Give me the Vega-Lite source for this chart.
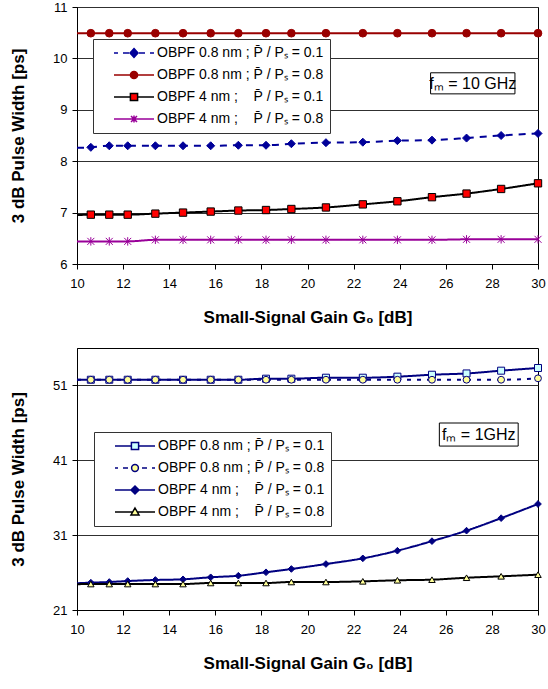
{
  "$schema": "https://vega.github.io/schema/vega-lite/v6.json",
  "padding": {"left": 9, "top": 0, "right": 0, "bottom": 5},
  "spacing": 21,
  "config": {
    "font": "Liberation Sans",
    "view": {"stroke": "#000000", "strokeWidth": 1},
    "axis": {"labelFont": "Liberation Sans", "labelFontSize": 13, "labelColor": "#000000", "titleFont": "Liberation Sans", "titleFontSize": 17, "titleFontWeight": "bold", "titleColor": "#000000", "domainColor": "#000000", "tickColor": "#000000", "tickSize": 5, "gridColor": "#303030", "labelFlush": false, "labelOverlap": false},
    "legend": {"title": null, "orient": "none", "direction": "vertical", "padding": 6, "strokeColor": "#333333", "fillColor": "#ffffff", "labelFont": "Liberation Sans", "labelFontSize": 14, "labelColor": "#000000", "labelLimit": 400, "symbolSize": 1600, "symbolStrokeWidth": 1.5, "symbolOpacity": 1, "clipHeight": 16, "rowPadding": 6, "symbolOffset": 14, "labelOffset": 2, "labelExpr": "datum.label + '\u00a0\u00a0\u00a0\u00a0\u00a0\u00a0'"}
  },
  "datasets": {
    "top": [
      {"series": "OBPF 0.8 nm ; P\u0304 / P\u209b = 0.1", "gain": 10, "width": 8.26},
      {"series": "OBPF 0.8 nm ; P\u0304 / P\u209b = 0.1", "gain": 10.6, "width": 8.27},
      {"series": "OBPF 0.8 nm ; P\u0304 / P\u209b = 0.1", "gain": 11.4, "width": 8.30},
      {"series": "OBPF 0.8 nm ; P\u0304 / P\u209b = 0.1", "gain": 12.2, "width": 8.30},
      {"series": "OBPF 0.8 nm ; P\u0304 / P\u209b = 0.1", "gain": 13.4, "width": 8.30},
      {"series": "OBPF 0.8 nm ; P\u0304 / P\u209b = 0.1", "gain": 14.6, "width": 8.30},
      {"series": "OBPF 0.8 nm ; P\u0304 / P\u209b = 0.1", "gain": 15.8, "width": 8.30},
      {"series": "OBPF 0.8 nm ; P\u0304 / P\u209b = 0.1", "gain": 17.0, "width": 8.31},
      {"series": "OBPF 0.8 nm ; P\u0304 / P\u209b = 0.1", "gain": 18.2, "width": 8.31},
      {"series": "OBPF 0.8 nm ; P\u0304 / P\u209b = 0.1", "gain": 19.3, "width": 8.34},
      {"series": "OBPF 0.8 nm ; P\u0304 / P\u209b = 0.1", "gain": 20.8, "width": 8.36},
      {"series": "OBPF 0.8 nm ; P\u0304 / P\u209b = 0.1", "gain": 22.4, "width": 8.37},
      {"series": "OBPF 0.8 nm ; P\u0304 / P\u209b = 0.1", "gain": 23.9, "width": 8.40},
      {"series": "OBPF 0.8 nm ; P\u0304 / P\u209b = 0.1", "gain": 25.4, "width": 8.41},
      {"series": "OBPF 0.8 nm ; P\u0304 / P\u209b = 0.1", "gain": 26.9, "width": 8.45},
      {"series": "OBPF 0.8 nm ; P\u0304 / P\u209b = 0.1", "gain": 28.4, "width": 8.50},
      {"series": "OBPF 0.8 nm ; P\u0304 / P\u209b = 0.1", "gain": 30, "width": 8.54},
      {"series": "OBPF 0.8 nm ; P\u0304 / P\u209b = 0.8", "gain": 10, "width": 10.49},
      {"series": "OBPF 0.8 nm ; P\u0304 / P\u209b = 0.8", "gain": 10.6, "width": 10.49},
      {"series": "OBPF 0.8 nm ; P\u0304 / P\u209b = 0.8", "gain": 11.4, "width": 10.49},
      {"series": "OBPF 0.8 nm ; P\u0304 / P\u209b = 0.8", "gain": 12.2, "width": 10.49},
      {"series": "OBPF 0.8 nm ; P\u0304 / P\u209b = 0.8", "gain": 13.4, "width": 10.49},
      {"series": "OBPF 0.8 nm ; P\u0304 / P\u209b = 0.8", "gain": 14.6, "width": 10.49},
      {"series": "OBPF 0.8 nm ; P\u0304 / P\u209b = 0.8", "gain": 15.8, "width": 10.49},
      {"series": "OBPF 0.8 nm ; P\u0304 / P\u209b = 0.8", "gain": 17.0, "width": 10.49},
      {"series": "OBPF 0.8 nm ; P\u0304 / P\u209b = 0.8", "gain": 18.2, "width": 10.49},
      {"series": "OBPF 0.8 nm ; P\u0304 / P\u209b = 0.8", "gain": 19.3, "width": 10.49},
      {"series": "OBPF 0.8 nm ; P\u0304 / P\u209b = 0.8", "gain": 20.8, "width": 10.49},
      {"series": "OBPF 0.8 nm ; P\u0304 / P\u209b = 0.8", "gain": 22.4, "width": 10.49},
      {"series": "OBPF 0.8 nm ; P\u0304 / P\u209b = 0.8", "gain": 23.9, "width": 10.49},
      {"series": "OBPF 0.8 nm ; P\u0304 / P\u209b = 0.8", "gain": 25.4, "width": 10.49},
      {"series": "OBPF 0.8 nm ; P\u0304 / P\u209b = 0.8", "gain": 26.9, "width": 10.49},
      {"series": "OBPF 0.8 nm ; P\u0304 / P\u209b = 0.8", "gain": 28.4, "width": 10.49},
      {"series": "OBPF 0.8 nm ; P\u0304 / P\u209b = 0.8", "gain": 30, "width": 10.49},
      {"series": "OBPF 4 nm ;\u00a0\u00a0\u00a0\u00a0P\u0304 / P\u209b = 0.1", "gain": 10, "width": 6.95},
      {"series": "OBPF 4 nm ;\u00a0\u00a0\u00a0\u00a0P\u0304 / P\u209b = 0.1", "gain": 10.6, "width": 6.96},
      {"series": "OBPF 4 nm ;\u00a0\u00a0\u00a0\u00a0P\u0304 / P\u209b = 0.1", "gain": 11.4, "width": 6.96},
      {"series": "OBPF 4 nm ;\u00a0\u00a0\u00a0\u00a0P\u0304 / P\u209b = 0.1", "gain": 12.2, "width": 6.96},
      {"series": "OBPF 4 nm ;\u00a0\u00a0\u00a0\u00a0P\u0304 / P\u209b = 0.1", "gain": 13.4, "width": 6.98},
      {"series": "OBPF 4 nm ;\u00a0\u00a0\u00a0\u00a0P\u0304 / P\u209b = 0.1", "gain": 14.6, "width": 7.00},
      {"series": "OBPF 4 nm ;\u00a0\u00a0\u00a0\u00a0P\u0304 / P\u209b = 0.1", "gain": 15.8, "width": 7.02},
      {"series": "OBPF 4 nm ;\u00a0\u00a0\u00a0\u00a0P\u0304 / P\u209b = 0.1", "gain": 17.0, "width": 7.04},
      {"series": "OBPF 4 nm ;\u00a0\u00a0\u00a0\u00a0P\u0304 / P\u209b = 0.1", "gain": 18.2, "width": 7.05},
      {"series": "OBPF 4 nm ;\u00a0\u00a0\u00a0\u00a0P\u0304 / P\u209b = 0.1", "gain": 19.3, "width": 7.07},
      {"series": "OBPF 4 nm ;\u00a0\u00a0\u00a0\u00a0P\u0304 / P\u209b = 0.1", "gain": 20.8, "width": 7.10},
      {"series": "OBPF 4 nm ;\u00a0\u00a0\u00a0\u00a0P\u0304 / P\u209b = 0.1", "gain": 22.4, "width": 7.16},
      {"series": "OBPF 4 nm ;\u00a0\u00a0\u00a0\u00a0P\u0304 / P\u209b = 0.1", "gain": 23.9, "width": 7.22},
      {"series": "OBPF 4 nm ;\u00a0\u00a0\u00a0\u00a0P\u0304 / P\u209b = 0.1", "gain": 25.4, "width": 7.30},
      {"series": "OBPF 4 nm ;\u00a0\u00a0\u00a0\u00a0P\u0304 / P\u209b = 0.1", "gain": 26.9, "width": 7.37},
      {"series": "OBPF 4 nm ;\u00a0\u00a0\u00a0\u00a0P\u0304 / P\u209b = 0.1", "gain": 28.4, "width": 7.46},
      {"series": "OBPF 4 nm ;\u00a0\u00a0\u00a0\u00a0P\u0304 / P\u209b = 0.1", "gain": 30, "width": 7.57},
      {"series": "OBPF 4 nm ;\u00a0\u00a0\u00a0\u00a0P\u0304 / P\u209b = 0.8", "gain": 10, "width": 6.44},
      {"series": "OBPF 4 nm ;\u00a0\u00a0\u00a0\u00a0P\u0304 / P\u209b = 0.8", "gain": 10.6, "width": 6.44},
      {"series": "OBPF 4 nm ;\u00a0\u00a0\u00a0\u00a0P\u0304 / P\u209b = 0.8", "gain": 11.4, "width": 6.44},
      {"series": "OBPF 4 nm ;\u00a0\u00a0\u00a0\u00a0P\u0304 / P\u209b = 0.8", "gain": 12.2, "width": 6.44},
      {"series": "OBPF 4 nm ;\u00a0\u00a0\u00a0\u00a0P\u0304 / P\u209b = 0.8", "gain": 13.4, "width": 6.47},
      {"series": "OBPF 4 nm ;\u00a0\u00a0\u00a0\u00a0P\u0304 / P\u209b = 0.8", "gain": 14.6, "width": 6.47},
      {"series": "OBPF 4 nm ;\u00a0\u00a0\u00a0\u00a0P\u0304 / P\u209b = 0.8", "gain": 15.8, "width": 6.47},
      {"series": "OBPF 4 nm ;\u00a0\u00a0\u00a0\u00a0P\u0304 / P\u209b = 0.8", "gain": 17.0, "width": 6.47},
      {"series": "OBPF 4 nm ;\u00a0\u00a0\u00a0\u00a0P\u0304 / P\u209b = 0.8", "gain": 18.2, "width": 6.47},
      {"series": "OBPF 4 nm ;\u00a0\u00a0\u00a0\u00a0P\u0304 / P\u209b = 0.8", "gain": 19.3, "width": 6.47},
      {"series": "OBPF 4 nm ;\u00a0\u00a0\u00a0\u00a0P\u0304 / P\u209b = 0.8", "gain": 20.8, "width": 6.47},
      {"series": "OBPF 4 nm ;\u00a0\u00a0\u00a0\u00a0P\u0304 / P\u209b = 0.8", "gain": 22.4, "width": 6.47},
      {"series": "OBPF 4 nm ;\u00a0\u00a0\u00a0\u00a0P\u0304 / P\u209b = 0.8", "gain": 23.9, "width": 6.47},
      {"series": "OBPF 4 nm ;\u00a0\u00a0\u00a0\u00a0P\u0304 / P\u209b = 0.8", "gain": 25.4, "width": 6.47},
      {"series": "OBPF 4 nm ;\u00a0\u00a0\u00a0\u00a0P\u0304 / P\u209b = 0.8", "gain": 26.9, "width": 6.48},
      {"series": "OBPF 4 nm ;\u00a0\u00a0\u00a0\u00a0P\u0304 / P\u209b = 0.8", "gain": 28.4, "width": 6.48},
      {"series": "OBPF 4 nm ;\u00a0\u00a0\u00a0\u00a0P\u0304 / P\u209b = 0.8", "gain": 30, "width": 6.48}
    ],
    "bottom": [
      {"series": "OBPF 0.8 nm ; P\u0304 / P\u209b = 0.1", "gain": 10, "width": 51.76},
      {"series": "OBPF 0.8 nm ; P\u0304 / P\u209b = 0.1", "gain": 10.6, "width": 51.76},
      {"series": "OBPF 0.8 nm ; P\u0304 / P\u209b = 0.1", "gain": 11.4, "width": 51.76},
      {"series": "OBPF 0.8 nm ; P\u0304 / P\u209b = 0.1", "gain": 12.2, "width": 51.76},
      {"series": "OBPF 0.8 nm ; P\u0304 / P\u209b = 0.1", "gain": 13.4, "width": 51.76},
      {"series": "OBPF 0.8 nm ; P\u0304 / P\u209b = 0.1", "gain": 14.6, "width": 51.76},
      {"series": "OBPF 0.8 nm ; P\u0304 / P\u209b = 0.1", "gain": 15.8, "width": 51.76},
      {"series": "OBPF 0.8 nm ; P\u0304 / P\u209b = 0.1", "gain": 17.0, "width": 51.76},
      {"series": "OBPF 0.8 nm ; P\u0304 / P\u209b = 0.1", "gain": 18.2, "width": 51.90},
      {"series": "OBPF 0.8 nm ; P\u0304 / P\u209b = 0.1", "gain": 19.3, "width": 51.90},
      {"series": "OBPF 0.8 nm ; P\u0304 / P\u209b = 0.1", "gain": 20.8, "width": 52.03},
      {"series": "OBPF 0.8 nm ; P\u0304 / P\u209b = 0.1", "gain": 22.4, "width": 52.03},
      {"series": "OBPF 0.8 nm ; P\u0304 / P\u209b = 0.1", "gain": 23.9, "width": 52.17},
      {"series": "OBPF 0.8 nm ; P\u0304 / P\u209b = 0.1", "gain": 25.4, "width": 52.43},
      {"series": "OBPF 0.8 nm ; P\u0304 / P\u209b = 0.1", "gain": 26.9, "width": 52.60},
      {"series": "OBPF 0.8 nm ; P\u0304 / P\u209b = 0.1", "gain": 28.4, "width": 52.97},
      {"series": "OBPF 0.8 nm ; P\u0304 / P\u209b = 0.1", "gain": 30, "width": 53.33},
      {"series": "OBPF 0.8 nm ; P\u0304 / P\u209b = 0.8", "gain": 10, "width": 51.76},
      {"series": "OBPF 0.8 nm ; P\u0304 / P\u209b = 0.8", "gain": 10.6, "width": 51.76},
      {"series": "OBPF 0.8 nm ; P\u0304 / P\u209b = 0.8", "gain": 11.4, "width": 51.76},
      {"series": "OBPF 0.8 nm ; P\u0304 / P\u209b = 0.8", "gain": 12.2, "width": 51.76},
      {"series": "OBPF 0.8 nm ; P\u0304 / P\u209b = 0.8", "gain": 13.4, "width": 51.76},
      {"series": "OBPF 0.8 nm ; P\u0304 / P\u209b = 0.8", "gain": 14.6, "width": 51.76},
      {"series": "OBPF 0.8 nm ; P\u0304 / P\u209b = 0.8", "gain": 15.8, "width": 51.76},
      {"series": "OBPF 0.8 nm ; P\u0304 / P\u209b = 0.8", "gain": 17.0, "width": 51.76},
      {"series": "OBPF 0.8 nm ; P\u0304 / P\u209b = 0.8", "gain": 18.2, "width": 51.76},
      {"series": "OBPF 0.8 nm ; P\u0304 / P\u209b = 0.8", "gain": 19.3, "width": 51.76},
      {"series": "OBPF 0.8 nm ; P\u0304 / P\u209b = 0.8", "gain": 20.8, "width": 51.76},
      {"series": "OBPF 0.8 nm ; P\u0304 / P\u209b = 0.8", "gain": 22.4, "width": 51.76},
      {"series": "OBPF 0.8 nm ; P\u0304 / P\u209b = 0.8", "gain": 23.9, "width": 51.76},
      {"series": "OBPF 0.8 nm ; P\u0304 / P\u209b = 0.8", "gain": 25.4, "width": 51.76},
      {"series": "OBPF 0.8 nm ; P\u0304 / P\u209b = 0.8", "gain": 26.9, "width": 51.76},
      {"series": "OBPF 0.8 nm ; P\u0304 / P\u209b = 0.8", "gain": 28.4, "width": 51.76},
      {"series": "OBPF 0.8 nm ; P\u0304 / P\u209b = 0.8", "gain": 30, "width": 51.95},
      {"series": "OBPF 4 nm ;\u00a0\u00a0\u00a0\u00a0P\u0304 / P\u209b = 0.1", "gain": 10, "width": 24.58},
      {"series": "OBPF 4 nm ;\u00a0\u00a0\u00a0\u00a0P\u0304 / P\u209b = 0.1", "gain": 10.6, "width": 24.65},
      {"series": "OBPF 4 nm ;\u00a0\u00a0\u00a0\u00a0P\u0304 / P\u209b = 0.1", "gain": 11.4, "width": 24.74},
      {"series": "OBPF 4 nm ;\u00a0\u00a0\u00a0\u00a0P\u0304 / P\u209b = 0.1", "gain": 12.2, "width": 24.87},
      {"series": "OBPF 4 nm ;\u00a0\u00a0\u00a0\u00a0P\u0304 / P\u209b = 0.1", "gain": 13.4, "width": 25.01},
      {"series": "OBPF 4 nm ;\u00a0\u00a0\u00a0\u00a0P\u0304 / P\u209b = 0.1", "gain": 14.6, "width": 25.10},
      {"series": "OBPF 4 nm ;\u00a0\u00a0\u00a0\u00a0P\u0304 / P\u209b = 0.1", "gain": 15.8, "width": 25.37},
      {"series": "OBPF 4 nm ;\u00a0\u00a0\u00a0\u00a0P\u0304 / P\u209b = 0.1", "gain": 17.0, "width": 25.58},
      {"series": "OBPF 4 nm ;\u00a0\u00a0\u00a0\u00a0P\u0304 / P\u209b = 0.1", "gain": 18.2, "width": 26.04},
      {"series": "OBPF 4 nm ;\u00a0\u00a0\u00a0\u00a0P\u0304 / P\u209b = 0.1", "gain": 19.3, "width": 26.48},
      {"series": "OBPF 4 nm ;\u00a0\u00a0\u00a0\u00a0P\u0304 / P\u209b = 0.1", "gain": 20.8, "width": 27.14},
      {"series": "OBPF 4 nm ;\u00a0\u00a0\u00a0\u00a0P\u0304 / P\u209b = 0.1", "gain": 22.4, "width": 27.90},
      {"series": "OBPF 4 nm ;\u00a0\u00a0\u00a0\u00a0P\u0304 / P\u209b = 0.1", "gain": 23.9, "width": 28.92},
      {"series": "OBPF 4 nm ;\u00a0\u00a0\u00a0\u00a0P\u0304 / P\u209b = 0.1", "gain": 25.4, "width": 30.20},
      {"series": "OBPF 4 nm ;\u00a0\u00a0\u00a0\u00a0P\u0304 / P\u209b = 0.1", "gain": 26.9, "width": 31.60},
      {"series": "OBPF 4 nm ;\u00a0\u00a0\u00a0\u00a0P\u0304 / P\u209b = 0.1", "gain": 28.4, "width": 33.27},
      {"series": "OBPF 4 nm ;\u00a0\u00a0\u00a0\u00a0P\u0304 / P\u209b = 0.1", "gain": 30, "width": 35.16},
      {"series": "OBPF 4 nm ;\u00a0\u00a0\u00a0\u00a0P\u0304 / P\u209b = 0.8", "gain": 10, "width": 24.45},
      {"series": "OBPF 4 nm ;\u00a0\u00a0\u00a0\u00a0P\u0304 / P\u209b = 0.8", "gain": 10.6, "width": 24.47},
      {"series": "OBPF 4 nm ;\u00a0\u00a0\u00a0\u00a0P\u0304 / P\u209b = 0.8", "gain": 11.4, "width": 24.47},
      {"series": "OBPF 4 nm ;\u00a0\u00a0\u00a0\u00a0P\u0304 / P\u209b = 0.8", "gain": 12.2, "width": 24.47},
      {"series": "OBPF 4 nm ;\u00a0\u00a0\u00a0\u00a0P\u0304 / P\u209b = 0.8", "gain": 13.4, "width": 24.47},
      {"series": "OBPF 4 nm ;\u00a0\u00a0\u00a0\u00a0P\u0304 / P\u209b = 0.8", "gain": 14.6, "width": 24.47},
      {"series": "OBPF 4 nm ;\u00a0\u00a0\u00a0\u00a0P\u0304 / P\u209b = 0.8", "gain": 15.8, "width": 24.61},
      {"series": "OBPF 4 nm ;\u00a0\u00a0\u00a0\u00a0P\u0304 / P\u209b = 0.8", "gain": 17.0, "width": 24.61},
      {"series": "OBPF 4 nm ;\u00a0\u00a0\u00a0\u00a0P\u0304 / P\u209b = 0.8", "gain": 18.2, "width": 24.61},
      {"series": "OBPF 4 nm ;\u00a0\u00a0\u00a0\u00a0P\u0304 / P\u209b = 0.8", "gain": 19.3, "width": 24.74},
      {"series": "OBPF 4 nm ;\u00a0\u00a0\u00a0\u00a0P\u0304 / P\u209b = 0.8", "gain": 20.8, "width": 24.74},
      {"series": "OBPF 4 nm ;\u00a0\u00a0\u00a0\u00a0P\u0304 / P\u209b = 0.8", "gain": 22.4, "width": 24.83},
      {"series": "OBPF 4 nm ;\u00a0\u00a0\u00a0\u00a0P\u0304 / P\u209b = 0.8", "gain": 23.9, "width": 24.97},
      {"series": "OBPF 4 nm ;\u00a0\u00a0\u00a0\u00a0P\u0304 / P\u209b = 0.8", "gain": 25.4, "width": 25.05},
      {"series": "OBPF 4 nm ;\u00a0\u00a0\u00a0\u00a0P\u0304 / P\u209b = 0.8", "gain": 26.9, "width": 25.31},
      {"series": "OBPF 4 nm ;\u00a0\u00a0\u00a0\u00a0P\u0304 / P\u209b = 0.8", "gain": 28.4, "width": 25.50},
      {"series": "OBPF 4 nm ;\u00a0\u00a0\u00a0\u00a0P\u0304 / P\u209b = 0.8", "gain": 30, "width": 25.72}
    ]
  },
  "vconcat": [
    {
      "width": 461,
      "height": 257,
      "layer": [
        {
          "data": {"name": "top"},
          "mark": {"type": "line", "strokeWidth": 2, "interpolate": "monotone"},
          "encoding": {
            "x": {"field": "gain", "type": "quantitative", "scale": {"domain": [10, 30], "nice": false, "zero": false},
              "axis": {"title": "Small-Signal Gain G\u2080 [dB]", "values": [10,11,12,13,14,15,16,17,18,19,20,21,22,23,24,25,26,27,28,29,30], "labelExpr": "datum.value % 2 === 0 ? format(datum.value, 'd') : ''", "grid": false, "labelOverlap": false, "labelFlush": false, "labelPadding": 8, "titlePadding": 19}},
            "y": {"field": "width", "type": "quantitative", "scale": {"domain": [6, 11], "nice": false, "zero": false},
              "axis": {"title": "3 dB Pulse Width [ps]", "values": [6,6.5,7,7.5,8,8.5,9,9.5,10,10.5,11], "labelExpr": "datum.value % 1 === 0 ? format(datum.value, 'd') : ''", "gridOpacity": {"condition": {"test": "datum.value % 1 === 0", "value": 1}, "value": 0}, "labelOverlap": false, "labelFlush": false, "labelPadding": 5, "titlePadding": 25}},
            "stroke": {"field": "series", "type": "nominal", "legend": null,
              "scale": {"domain": ["OBPF 0.8 nm ; P\u0304 / P\u209b = 0.1", "OBPF 0.8 nm ; P\u0304 / P\u209b = 0.8", "OBPF 4 nm ;\u00a0\u00a0\u00a0\u00a0P\u0304 / P\u209b = 0.1", "OBPF 4 nm ;\u00a0\u00a0\u00a0\u00a0P\u0304 / P\u209b = 0.8"], "range": ["#000099", "#990000", "#000000", "#990099"]}},
            "strokeDash": {"field": "series", "type": "nominal", "legend": null,
              "scale": {"domain": ["OBPF 0.8 nm ; P\u0304 / P\u209b = 0.1", "OBPF 0.8 nm ; P\u0304 / P\u209b = 0.8", "OBPF 4 nm ;\u00a0\u00a0\u00a0\u00a0P\u0304 / P\u209b = 0.1", "OBPF 4 nm ;\u00a0\u00a0\u00a0\u00a0P\u0304 / P\u209b = 0.8"], "range": [[7, 6], [1, 0], [1, 0], [1, 0]]}}
          }
        },
        {
          "data": {"name": "top"},
          "transform": [{"filter": "datum.gain > 10"}],
          "mark": {"type": "point", "opacity": 1, "strokeWidth": 1},
          "encoding": {
            "x": {"field": "gain", "type": "quantitative"},
            "y": {"field": "width", "type": "quantitative"},
            "stroke": {"field": "series", "type": "nominal", "legend": null,
              "scale": {"domain": ["OBPF 0.8 nm ; P\u0304 / P\u209b = 0.1", "OBPF 0.8 nm ; P\u0304 / P\u209b = 0.8", "OBPF 4 nm ;\u00a0\u00a0\u00a0\u00a0P\u0304 / P\u209b = 0.1", "OBPF 4 nm ;\u00a0\u00a0\u00a0\u00a0P\u0304 / P\u209b = 0.8"], "range": ["#000099", "#990000", "#000000", "#990099"]}},
            "fill": {"field": "series", "type": "nominal", "legend": null,
              "scale": {"domain": ["OBPF 0.8 nm ; P\u0304 / P\u209b = 0.1", "OBPF 0.8 nm ; P\u0304 / P\u209b = 0.8", "OBPF 4 nm ;\u00a0\u00a0\u00a0\u00a0P\u0304 / P\u209b = 0.1", "OBPF 4 nm ;\u00a0\u00a0\u00a0\u00a0P\u0304 / P\u209b = 0.8"], "range": ["#000099", "#990000", "#ff0000", "transparent"]}},
            "shape": {"field": "series", "type": "nominal", "legend": null,
              "scale": {"domain": ["OBPF 0.8 nm ; P\u0304 / P\u209b = 0.1", "OBPF 0.8 nm ; P\u0304 / P\u209b = 0.8", "OBPF 4 nm ;\u00a0\u00a0\u00a0\u00a0P\u0304 / P\u209b = 0.1", "OBPF 4 nm ;\u00a0\u00a0\u00a0\u00a0P\u0304 / P\u209b = 0.8"], "range": ["diamond", "circle", "square", "M-1,-1L1,1M-1,1L1,-1M0,-1.2V1.2"]}},
            "size": {"field": "series", "type": "nominal", "legend": null,
              "scale": {"domain": ["OBPF 0.8 nm ; P\u0304 / P\u209b = 0.1", "OBPF 0.8 nm ; P\u0304 / P\u209b = 0.8", "OBPF 4 nm ;\u00a0\u00a0\u00a0\u00a0P\u0304 / P\u209b = 0.1", "OBPF 4 nm ;\u00a0\u00a0\u00a0\u00a0P\u0304 / P\u209b = 0.8"], "range": [64, 49, 49, 49]}}
          }
        },
        {
          "data": {"name": "top"},
          "transform": [{"filter": "false"}],
          "mark": {"type": "point", "opacity": 1, "strokeWidth": 1.5},
          "encoding": {
            "x": {"field": "gain", "type": "quantitative"},
            "y": {"field": "width", "type": "quantitative"},
            "stroke": {"field": "series", "type": "nominal", "legend": {"orient": "none", "legendX": 16, "legendY": 32, "title": null},
              "scale": {"domain": ["OBPF 0.8 nm ; P\u0304 / P\u209b = 0.1", "OBPF 0.8 nm ; P\u0304 / P\u209b = 0.8", "OBPF 4 nm ;\u00a0\u00a0\u00a0\u00a0P\u0304 / P\u209b = 0.1", "OBPF 4 nm ;\u00a0\u00a0\u00a0\u00a0P\u0304 / P\u209b = 0.8"], "range": ["#000099", "#990000", "#000000", "#990099"]}},
            "fill": {"field": "series", "type": "nominal", "legend": {"orient": "none", "legendX": 16, "legendY": 32, "title": null},
              "scale": {"domain": ["OBPF 0.8 nm ; P\u0304 / P\u209b = 0.1", "OBPF 0.8 nm ; P\u0304 / P\u209b = 0.8", "OBPF 4 nm ;\u00a0\u00a0\u00a0\u00a0P\u0304 / P\u209b = 0.1", "OBPF 4 nm ;\u00a0\u00a0\u00a0\u00a0P\u0304 / P\u209b = 0.8"], "range": ["#000099", "#990000", "#ff0000", "transparent"]}},
            "shape": {"field": "series", "type": "nominal", "legend": {"orient": "none", "legendX": 16, "legendY": 32, "title": null},
              "scale": {"domain": ["OBPF 0.8 nm ; P\u0304 / P\u209b = 0.1", "OBPF 0.8 nm ; P\u0304 / P\u209b = 0.8", "OBPF 4 nm ;\u00a0\u00a0\u00a0\u00a0P\u0304 / P\u209b = 0.1", "OBPF 4 nm ;\u00a0\u00a0\u00a0\u00a0P\u0304 / P\u209b = 0.8"], "range": ["M-1,0H-0.8M-0.55,0H-0.25M0.25,0H0.55M0.8,0H1M0,-0.22L0.2,0L0,0.22L-0.2,0Z", "M-1,0H-0.18M0.18,0H1M-0.18,0A0.18,0.18,0,1,0,0.18,0A0.18,0.18,0,1,0,-0.18,0Z", "M-1,0H-0.18M0.18,0H1M-0.18,-0.18H0.18V0.18H-0.18Z", "M-1,0H1M-0.15,-0.15L0.15,0.15M-0.15,0.15L0.15,-0.15M0,-0.18V0.18"]}}
          }
        },
        {
          "data": {"values": [{"note": "f\u2098 = 10 GHz"}]},
          "mark": {"type": "rect", "fill": "#ffffff", "stroke": "#000000", "strokeWidth": 1},
          "encoding": {"x": {"datum": 25.34, "type": "quantitative"}, "x2": {"datum": 29.0}, "y": {"datum": 9.72, "type": "quantitative"}, "y2": {"datum": 9.31}}
        },
        {
          "data": {"values": [{"note": "f\u2098 = 10 GHz"}]},
          "mark": {"type": "text", "font": "Liberation Sans", "fontSize": 16, "fill": "#000000"},
          "encoding": {"x": {"datum": 27.17, "type": "quantitative"}, "y": {"datum": 9.51, "type": "quantitative"}, "text": {"field": "note", "type": "nominal"}}
        }
      ],
      "resolve": {"scale": {"stroke": "independent", "fill": "independent", "shape": "independent", "size": "independent", "strokeDash": "independent"}}
    },
    {
      "width": 461,
      "height": 262,
      "layer": [
        {
          "data": {"name": "bottom"},
          "mark": {"type": "line", "strokeWidth": 2, "interpolate": "monotone"},
          "encoding": {
            "x": {"field": "gain", "type": "quantitative", "scale": {"domain": [10, 30], "nice": false, "zero": false},
              "axis": {"title": "Small-Signal Gain G\u2080 [dB]", "values": [10,11,12,13,14,15,16,17,18,19,20,21,22,23,24,25,26,27,28,29,30], "labelExpr": "datum.value % 2 === 0 ? format(datum.value, 'd') : ''", "grid": false, "labelOverlap": false, "labelFlush": false, "labelPadding": 8, "titlePadding": 19}},
            "y": {"field": "width", "type": "quantitative", "scale": {"domain": [21, 56], "nice": false, "zero": false},
              "axis": {"title": "3 dB Pulse Width [ps]", "values": [21, 26, 31, 36, 41, 46, 51, 56], "format": "d", "grid": true, "labelOverlap": false, "labelFlush": false, "labelPadding": 5, "titlePadding": 25}},
            "stroke": {"field": "series", "type": "nominal", "legend": null,
              "scale": {"domain": ["OBPF 0.8 nm ; P\u0304 / P\u209b = 0.1", "OBPF 0.8 nm ; P\u0304 / P\u209b = 0.8", "OBPF 4 nm ;\u00a0\u00a0\u00a0\u00a0P\u0304 / P\u209b = 0.1", "OBPF 4 nm ;\u00a0\u00a0\u00a0\u00a0P\u0304 / P\u209b = 0.8"], "range": ["#000080", "#000080", "#000080", "#000000"]}},
            "strokeDash": {"field": "series", "type": "nominal", "legend": null,
              "scale": {"domain": ["OBPF 0.8 nm ; P\u0304 / P\u209b = 0.1", "OBPF 0.8 nm ; P\u0304 / P\u209b = 0.8", "OBPF 4 nm ;\u00a0\u00a0\u00a0\u00a0P\u0304 / P\u209b = 0.1", "OBPF 4 nm ;\u00a0\u00a0\u00a0\u00a0P\u0304 / P\u209b = 0.8"], "range": [[1, 0], [4, 6], [1, 0], [1, 0]]}}
          }
        },
        {
          "data": {"name": "bottom"},
          "transform": [{"filter": "datum.gain > 10"}],
          "mark": {"type": "point", "opacity": 1, "strokeWidth": 1},
          "encoding": {
            "x": {"field": "gain", "type": "quantitative"},
            "y": {"field": "width", "type": "quantitative"},
            "stroke": {"field": "series", "type": "nominal", "legend": null,
              "scale": {"domain": ["OBPF 0.8 nm ; P\u0304 / P\u209b = 0.1", "OBPF 0.8 nm ; P\u0304 / P\u209b = 0.8", "OBPF 4 nm ;\u00a0\u00a0\u00a0\u00a0P\u0304 / P\u209b = 0.1", "OBPF 4 nm ;\u00a0\u00a0\u00a0\u00a0P\u0304 / P\u209b = 0.8"], "range": ["#000080", "#000080", "#000080", "#000000"]}},
            "fill": {"field": "series", "type": "nominal", "legend": null,
              "scale": {"domain": ["OBPF 0.8 nm ; P\u0304 / P\u209b = 0.1", "OBPF 0.8 nm ; P\u0304 / P\u209b = 0.8", "OBPF 4 nm ;\u00a0\u00a0\u00a0\u00a0P\u0304 / P\u209b = 0.1", "OBPF 4 nm ;\u00a0\u00a0\u00a0\u00a0P\u0304 / P\u209b = 0.8"], "range": ["#ccffff", "#ffff99", "#000080", "#ffff99"]}},
            "shape": {"field": "series", "type": "nominal", "legend": null,
              "scale": {"domain": ["OBPF 0.8 nm ; P\u0304 / P\u209b = 0.1", "OBPF 0.8 nm ; P\u0304 / P\u209b = 0.8", "OBPF 4 nm ;\u00a0\u00a0\u00a0\u00a0P\u0304 / P\u209b = 0.1", "OBPF 4 nm ;\u00a0\u00a0\u00a0\u00a0P\u0304 / P\u209b = 0.8"], "range": ["square", "circle", "diamond", "triangle-up"]}},
            "size": {"field": "series", "type": "nominal", "legend": null,
              "scale": {"domain": ["OBPF 0.8 nm ; P\u0304 / P\u209b = 0.1", "OBPF 0.8 nm ; P\u0304 / P\u209b = 0.8", "OBPF 4 nm ;\u00a0\u00a0\u00a0\u00a0P\u0304 / P\u209b = 0.1", "OBPF 4 nm ;\u00a0\u00a0\u00a0\u00a0P\u0304 / P\u209b = 0.8"], "range": [49, 42, 64, 60]}}
          }
        },
        {
          "data": {"name": "bottom"},
          "transform": [{"filter": "false"}],
          "mark": {"type": "point", "opacity": 1, "strokeWidth": 1.5},
          "encoding": {
            "x": {"field": "gain", "type": "quantitative"},
            "y": {"field": "width", "type": "quantitative"},
            "stroke": {"field": "series", "type": "nominal", "legend": {"orient": "none", "legendX": 17, "legendY": 84, "title": null},
              "scale": {"domain": ["OBPF 0.8 nm ; P\u0304 / P\u209b = 0.1", "OBPF 0.8 nm ; P\u0304 / P\u209b = 0.8", "OBPF 4 nm ;\u00a0\u00a0\u00a0\u00a0P\u0304 / P\u209b = 0.1", "OBPF 4 nm ;\u00a0\u00a0\u00a0\u00a0P\u0304 / P\u209b = 0.8"], "range": ["#000080", "#000080", "#000080", "#000000"]}},
            "fill": {"field": "series", "type": "nominal", "legend": {"orient": "none", "legendX": 17, "legendY": 84, "title": null},
              "scale": {"domain": ["OBPF 0.8 nm ; P\u0304 / P\u209b = 0.1", "OBPF 0.8 nm ; P\u0304 / P\u209b = 0.8", "OBPF 4 nm ;\u00a0\u00a0\u00a0\u00a0P\u0304 / P\u209b = 0.1", "OBPF 4 nm ;\u00a0\u00a0\u00a0\u00a0P\u0304 / P\u209b = 0.8"], "range": ["#ccffff", "#ffff99", "#000080", "#ffff99"]}},
            "shape": {"field": "series", "type": "nominal", "legend": {"orient": "none", "legendX": 17, "legendY": 84, "title": null},
              "scale": {"domain": ["OBPF 0.8 nm ; P\u0304 / P\u209b = 0.1", "OBPF 0.8 nm ; P\u0304 / P\u209b = 0.8", "OBPF 4 nm ;\u00a0\u00a0\u00a0\u00a0P\u0304 / P\u209b = 0.1", "OBPF 4 nm ;\u00a0\u00a0\u00a0\u00a0P\u0304 / P\u209b = 0.8"], "range": ["M-1,0H-0.18M0.18,0H1M-0.18,-0.18H0.18V0.18H-0.18Z", "M-1,0H-0.85M-0.6,0H-0.35M0.35,0H0.6M0.85,0H1M-0.17,0A0.17,0.17,0,1,0,0.17,0A0.17,0.17,0,1,0,-0.17,0Z", "M-1,0H1M0,-0.2L0.2,0L0,0.2L-0.2,0Z", "M-1,0H-0.12M0.12,0H1M0,-0.2L0.2,0.15L-0.2,0.15Z"]}}
          }
        },
        {
          "data": {"values": [{"note": "f\u2098 = 1GHz"}]},
          "mark": {"type": "rect", "fill": "#ffffff", "stroke": "#000000", "strokeWidth": 1},
          "encoding": {"x": {"datum": 25.72, "type": "quantitative"}, "x2": {"datum": 29.14}, "y": {"datum": 45.98, "type": "quantitative"}, "y2": {"datum": 42.9}}
        },
        {
          "data": {"values": [{"note": "f\u2098 = 1GHz"}]},
          "mark": {"type": "text", "font": "Liberation Sans", "fontSize": 16, "fill": "#000000"},
          "encoding": {"x": {"datum": 27.43, "type": "quantitative"}, "y": {"datum": 44.44, "type": "quantitative"}, "text": {"field": "note", "type": "nominal"}}
        }
      ],
      "resolve": {"scale": {"stroke": "independent", "fill": "independent", "shape": "independent", "size": "independent", "strokeDash": "independent"}}
    }
  ],
  "resolve": {
    "scale": {"x": "independent", "y": "independent"}
  }
}
